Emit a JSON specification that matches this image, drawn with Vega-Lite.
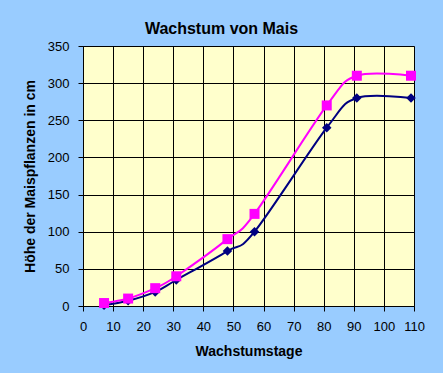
{
  "$schema": "https://vega.github.io/schema/vega-lite/v6.json",
  "width": 331,
  "height": 260,
  "autosize": {"type": "none"},
  "padding": {"left": 83, "top": 46, "right": 29, "bottom": 67},
  "background": "#99CCFF",
  "title": {
    "text": "Wachstum von Mais",
    "font": "Liberation Sans",
    "fontSize": 16,
    "fontWeight": "bold",
    "color": "#000000",
    "anchor": "middle",
    "frame": "group",
    "dx": -27,
    "offset": 3
  },
  "config": {
    "view": {"fill": "#FFFFCC", "stroke": "#808080", "strokeWidth": 1},
    "axis": {
      "labelFont": "Liberation Sans",
      "labelFontSize": 13,
      "labelColor": "#000000",
      "labelFlush": false,
      "labelOverlap": false,
      "titleFont": "Liberation Sans",
      "titleFontSize": 14,
      "titleFontWeight": "bold",
      "titleColor": "#000000",
      "domainColor": "#000000",
      "tickColor": "#000000",
      "tickSize": 5,
      "gridColor": "#000000",
      "gridOpacity": 1,
      "gridWidth": 1
    }
  },
  "data": {
    "values": [
      {"tage": 7, "hoehe": 1, "serie": "A"},
      {"tage": 15, "hoehe": 7, "serie": "A"},
      {"tage": 24, "hoehe": 19, "serie": "A"},
      {"tage": 31, "hoehe": 35, "serie": "A"},
      {"tage": 48, "hoehe": 74, "serie": "A"},
      {"tage": 57, "hoehe": 100, "serie": "A"},
      {"tage": 81, "hoehe": 240, "serie": "A"},
      {"tage": 91, "hoehe": 280, "serie": "A"},
      {"tage": 109, "hoehe": 280, "serie": "A"},
      {"tage": 7, "hoehe": 4, "serie": "B"},
      {"tage": 15, "hoehe": 10, "serie": "B"},
      {"tage": 24, "hoehe": 24, "serie": "B"},
      {"tage": 31, "hoehe": 40, "serie": "B"},
      {"tage": 48, "hoehe": 90, "serie": "B"},
      {"tage": 57, "hoehe": 124, "serie": "B"},
      {"tage": 81, "hoehe": 270, "serie": "B"},
      {"tage": 91, "hoehe": 310, "serie": "B"},
      {"tage": 109, "hoehe": 310, "serie": "B"}
    ]
  },
  "encoding": {
    "x": {
      "field": "tage",
      "type": "quantitative",
      "scale": {"domain": [0, 110], "nice": false, "zero": false},
      "axis": {"title": "Wachstumstage", "values": [0,10,20,30,40,50,60,70,80,90,100,110], "labelPadding": 9, "titlePadding": 11, "grid": true}
    },
    "y": {
      "field": "hoehe",
      "type": "quantitative",
      "scale": {"domain": [0, 350], "nice": false},
      "axis": {"title": "Höhe der Maispflanzen in cm", "values": [0,50,100,150,200,250,300,350], "labelPadding": 9, "titlePadding": 10, "grid": true}
    },
    "color": {
      "field": "serie",
      "type": "nominal",
      "scale": {"domain": ["A", "B"], "range": ["#000080", "#FF00FF"]},
      "legend": null
    }
  },
  "layer": [
    {
      "transform": [{"filter": "datum.serie == 'A'"}],
      "layer": [
        {"mark": {"type": "line", "interpolate": "cardinal", "tension": 0, "strokeWidth": 2}},
        {"mark": {"type": "point", "shape": "diamond", "filled": true, "size": 90, "opacity": 1}}
      ]
    },
    {
      "transform": [{"filter": "datum.serie == 'B'"}],
      "layer": [
        {"mark": {"type": "line", "interpolate": "cardinal", "tension": 0, "strokeWidth": 2}},
        {"mark": {"type": "point", "shape": "square", "filled": true, "size": 100, "opacity": 1}}
      ]
    }
  ]
}
